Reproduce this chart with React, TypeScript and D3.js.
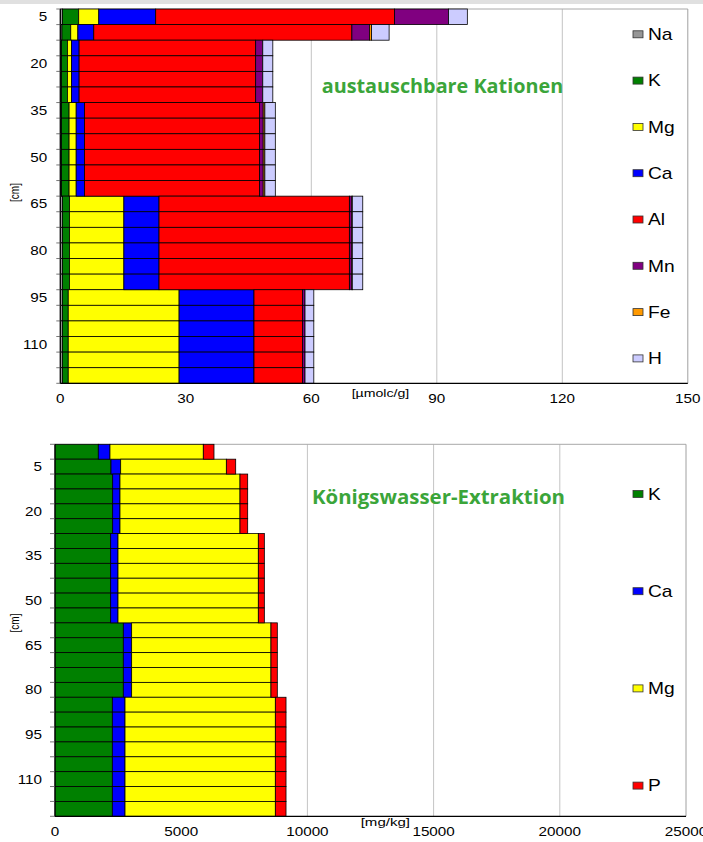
import React from "react";
import * as d3 from "d3";

// ---------- Top chart: austauschbare Kationen (µmolc/g) ----------
const topDepths = [5, 10, 15, 20, 25, 30, 35, 40, 45, 50, 55, 60, 65, 70, 75, 80, 85, 90, 95, 100, 105, 110, 115, 120];
const topTickLabels = ["5", "20", "35", "50", "65", "80", "95", "110"];
const topSeriesNames = ["Na", "K", "Mg", "Ca", "Al", "Mn", "Fe", "H"];
const topNa = [0.5, 0.4, 0.3, 0.3, 0.3, 0.3, 0.3, 0.3, 0.3, 0.3, 0.3, 0.3, 0.5, 0.5, 0.5, 0.5, 0.5, 0.5, 0.5, 0.5, 0.5, 0.5, 0.5, 0.5];
const topK = [3.9, 2.1, 1.4, 1.4, 1.4, 1.4, 1.8, 1.8, 1.8, 1.8, 1.8, 1.8, 1.7, 1.7, 1.7, 1.7, 1.7, 1.7, 1.4, 1.4, 1.4, 1.4, 1.4, 1.4];
const topMg = [4.8, 1.7, 1.0, 1.0, 1.0, 1.0, 1.7, 1.7, 1.7, 1.7, 1.7, 1.7, 13.0, 13.0, 13.0, 13.0, 13.0, 13.0, 26.5, 26.5, 26.5, 26.5, 26.5, 26.5];
const topCa = [13.6, 3.8, 1.8, 1.8, 1.8, 1.8, 2.0, 2.0, 2.0, 2.0, 2.0, 2.0, 8.4, 8.4, 8.4, 8.4, 8.4, 8.4, 17.9, 17.9, 17.9, 17.9, 17.9, 17.9];
const topAl = [57.1, 61.7, 42.2, 42.2, 42.2, 42.2, 41.8, 41.8, 41.8, 41.8, 41.8, 41.8, 45.5, 45.5, 45.5, 45.5, 45.5, 45.5, 11.6, 11.6, 11.6, 11.6, 11.6, 11.6];
const topMn = [12.9, 4.2, 1.7, 1.7, 1.7, 1.7, 0.9, 0.9, 0.9, 0.9, 0.9, 0.9, 0.6, 0.6, 0.6, 0.6, 0.6, 0.6, 0.6, 0.6, 0.6, 0.6, 0.6, 0.6];
const topFe = [0, 0.5, 0, 0, 0, 0, 0.4, 0.4, 0.4, 0.4, 0.4, 0.4, 0.1, 0.1, 0.1, 0.1, 0.1, 0.1, 0, 0, 0, 0, 0, 0];
const topH = [4.5, 4.2, 2.4, 2.4, 2.4, 2.4, 2.5, 2.5, 2.5, 2.5, 2.5, 2.5, 2.5, 2.5, 2.5, 2.5, 2.5, 2.5, 2.1, 2.1, 2.1, 2.1, 2.1, 2.1];
const topColors = ["#969696", "#008000", "#FFFF00", "#0000FF", "#FF0000", "#800080", "#FF9900", "#CCCCFF"];
const topXTicks = [0, 30, 60, 90, 120, 150];

// ---------- Bottom chart: Königswasser-Extraktion (mg/kg) ----------
const botDepths = [0, 5, 10, 15, 20, 25, 30, 35, 40, 45, 50, 55, 60, 65, 70, 75, 80, 85, 90, 95, 100, 105, 110, 115, 120];
const botTickLabels = ["5", "20", "35", "50", "65", "80", "95", "110"];
const botSeriesNames = ["K", "Ca", "Mg", "P"];
const botK = [1716, 2219, 2285, 2285, 2285, 2285, 2206, 2206, 2206, 2206, 2206, 2206, 2707, 2707, 2707, 2707, 2707, 2272, 2272, 2272, 2272, 2272, 2272, 2272, 2272];
const botCa = [462, 383, 290, 290, 290, 290, 290, 290, 290, 290, 290, 290, 330, 330, 330, 330, 330, 502, 502, 502, 502, 502, 502, 502, 502];
const botMg = [3698, 4187, 4755, 4755, 4755, 4755, 5560, 5560, 5560, 5560, 5560, 5560, 5520, 5520, 5520, 5520, 5520, 5956, 5956, 5956, 5956, 5956, 5956, 5956, 5956];
const botP = [423, 370, 304, 304, 304, 304, 238, 238, 238, 238, 238, 238, 251, 251, 251, 251, 251, 423, 423, 423, 423, 423, 423, 423, 423];
const botColors = ["#008000", "#0000FF", "#FFFF00", "#FF0000"];
const botXTicks = [0, 5000, 10000, 15000, 20000, 25000];

const FONT = "'Liberation Sans', Arial, sans-serif";

function SText(props: any) {
  const { x, y, sx = 1.22, anchor = "start", size = 12, fill = "#000", children, weight } = props;
  return (
    <text
      transform={`translate(${x},${y}) scale(${sx},1)`}
      textAnchor={anchor}
      fontSize={size}
      fontFamily={FONT}
      fill={fill}
      fontWeight={weight}
    >
      {children}
    </text>
  );
}

function StackChart(props: any) {
  const { depths, tickLabels, series, names, colors, xMax, xTicks, left, right, top, bottom, tickLen, unit, unitX, unitY, unitW,
    title, titleX, titleY, titleW, legendYs, cmY } = props;
  const x = d3.scaleLinear().domain([0, xMax]).range([left, right]);
  const y = d3.scaleBand<number>().domain(depths).range([top, bottom]).padding(0);
  const stackData = depths.map((d: number, i: number) => {
    const row: any = { depth: d };
    names.forEach((n: string, j: number) => (row[n] = series[j][i]));
    return row;
  });
  const stacked = d3.stack().keys(names)(stackData);
  const bw = y.bandwidth();
  return (
    <g>
      {/* gridlines */}
      {xTicks.filter((t: number) => t > 0 && t < xMax).map((t: number) => (
        <line key={"g" + t} x1={x(t)} x2={x(t)} y1={top} y2={bottom} stroke="#c4c4c4" strokeWidth={1} />
      ))}
      {/* plot border top/right */}
      <line x1={left} x2={right} y1={top} y2={top} stroke="#a8a8a8" strokeWidth={1} />
      <line x1={right} x2={right} y1={top} y2={bottom} stroke="#a0a0a0" strokeWidth={1} />
      {/* bars */}
      {stacked.map((s: any, j: number) => (
        <g key={names[j]}>
          {s.map((seg: any, i: number) => {
            const w = x(seg[1]) - x(seg[0]);
            if (w <= 0) return null;
            return (
              <rect key={i} x={x(seg[0])} y={y(depths[i])} width={w} height={bw}
                fill={colors[j]} stroke="#000" strokeWidth={0.8} />
            );
          })}
        </g>
      ))}
      {/* axes */}
      <line x1={left} x2={left} y1={top} y2={bottom} stroke="#000" strokeWidth={1.2} />
      <line x1={left} x2={right} y1={bottom} y2={bottom} stroke="#000" strokeWidth={1.2} />
      {depths.map((d: number, i: number) => (
        <line key={"t" + i} x1={left - tickLen} x2={left} y1={(y(d) as number)} y2={(y(d) as number)} stroke="#555" strokeWidth={0.8} />
      ))}
      <line x1={left - tickLen} x2={left} y1={bottom} y2={bottom} stroke="#555" strokeWidth={0.8} />
      {/* y tick labels */}
      {depths.filter((d: number) => tickLabels.includes(String(d))).map((d: number) => (
        <SText key={"yl" + d} x={left - 13} y={(y(d) as number) + bw / 2 + 4.5} anchor="end" size={12.5} sx={1.22}>{String(d)}</SText>
      ))}
      {/* x tick labels */}
      {xTicks.map((t: number) => (
        <SText key={"xl" + t} x={x(t)} y={bottom + 20} anchor="middle" size={12.5} sx={1.22}>{String(t)}</SText>
      ))}
      {/* unit labels */}
      <text x={unitX} y={unitY} fontSize={11} fontFamily={FONT} textLength={unitW} lengthAdjust="spacingAndGlyphs">{unit}</text>
      <text transform={`translate(18.5,${cmY}) rotate(-90)`} textAnchor="middle" fontSize={12} fontFamily={FONT}
        textLength={19} lengthAdjust="spacingAndGlyphs">[cm]</text>
      {/* title */}
      <text x={titleX} y={titleY} fontSize={19} fontWeight="bold" fontFamily="'Open Sans', 'Noto Sans', sans-serif"
        fill="#3BA53A" textLength={titleW} lengthAdjust="spacingAndGlyphs">{title}</text>
      {/* legend */}
      {names.map((n: string, j: number) => (
        <g key={"lg" + n}>
          <rect x={633} y={legendYs[j] - 3.5} width={10} height={7} fill={colors[j]} stroke="#333" strokeWidth={0.8} />
          <SText x={648} y={legendYs[j] + 5.8} size={16} sx={1.2}>{n}</SText>
        </g>
      ))}
    </g>
  );
}

export default function App() {
  const topLegendYs = topSeriesNames.map((_, i) => 34.3 + i * 46.3);
  const botLegendYs = botSeriesNames.map((_, i) => 494 + i * 97.2);
  return (
    <svg width={703} height={842} style={{ position: "absolute", left: 0, top: 0, background: "#fff" }}>
      <rect x={0} y={0} width={703} height={842} fill="#fff" />
      <rect x={0} y={0} width={703} height={4} fill="#e0e0e0" />
      <StackChart
        depths={topDepths} tickLabels={topTickLabels}
        series={[topNa, topK, topMg, topCa, topAl, topMn, topFe, topH]}
        names={topSeriesNames} colors={topColors}
        xMax={150} xTicks={topXTicks}
        left={60.3} right={687.8} top={9} bottom={383.3} tickLen={4}
        unit="[µmolc/g]" unitX={351.7} unitY={397} unitW={57.6}
        title="austauschbare Kationen" titleX={321.7} titleY={93} titleW={241.5}
        legendYs={topLegendYs} cmY={192.5}
      />
      <StackChart
        depths={botDepths} tickLabels={botTickLabels}
        series={[botK, botCa, botMg, botP]}
        names={botSeriesNames} colors={botColors}
        xMax={25000} xTicks={botXTicks}
        left={55} right={686} top={444.3} bottom={816.3} tickLen={5}
        unit="[mg/kg]" unitX={360.7} unitY={826} unitW={49.3}
        title="Königswasser-Extraktion" titleX={312} titleY={504} titleW={253}
        legendYs={botLegendYs} cmY={623}
      />
    </svg>
  );
}
